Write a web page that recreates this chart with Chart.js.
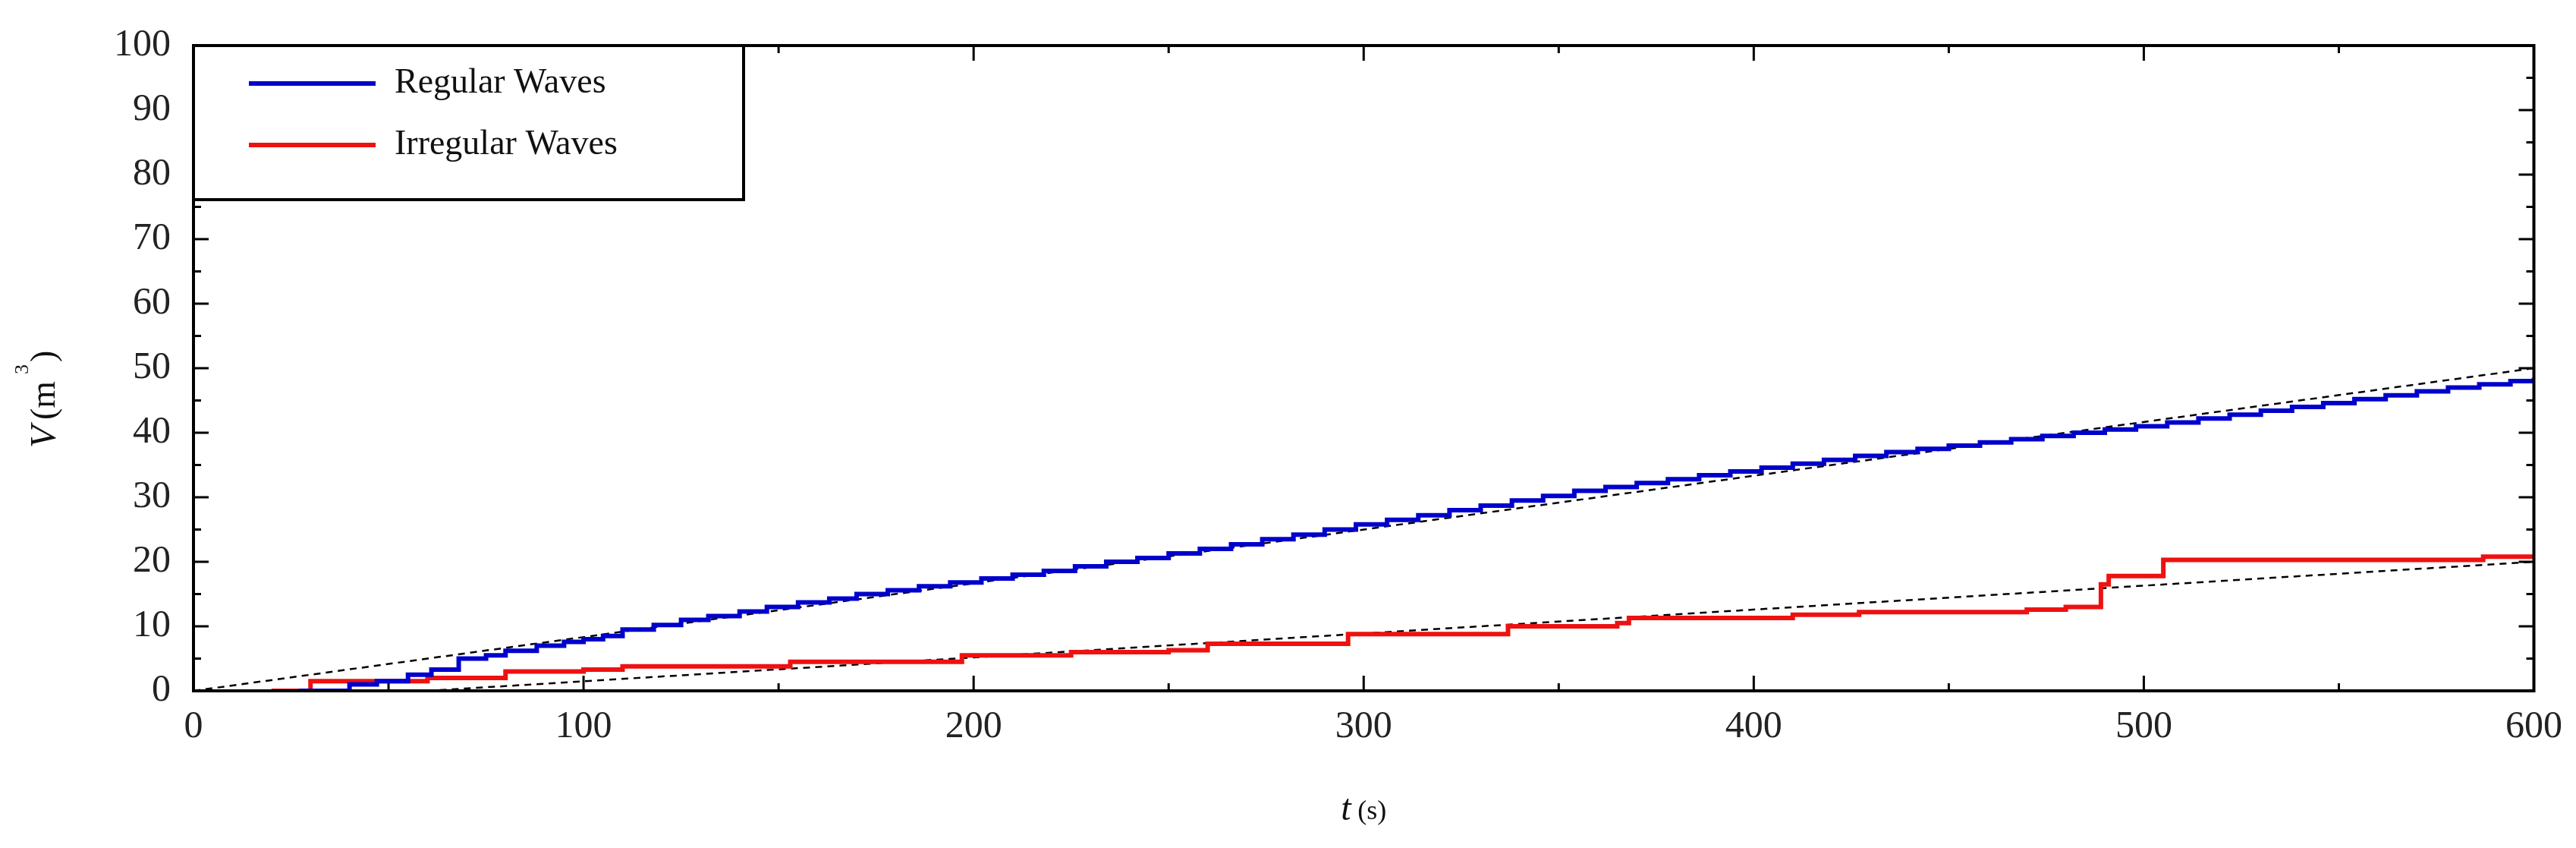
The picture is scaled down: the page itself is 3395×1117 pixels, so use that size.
<!DOCTYPE html>
<html>
<head>
<meta charset="utf-8">
<script src="https://cdn.jsdelivr.net/npm/chart.js@4/dist/chart.umd.min.js"></script>
<style>body{margin:0;background:#fff}</style>
</head>
<body>
<canvas id="chart" width="3395" height="1117"></canvas>
<script>
// regular waves: stepped cumulative volume
var regT = [27, 40, 47, 55, 61, 68, 75, 80, 88, 95, 100, 105, 110, 118, 125, 132, 140, 147, 155, 163, 170, 178, 186, 194, 202, 210, 218, 226, 234, 242, 250, 258, 266, 274, 282, 290, 298, 306, 314, 322, 330, 338, 346, 354, 362, 370, 378, 386, 394, 402, 410, 418, 426, 434, 442, 450, 458, 466, 474, 482, 490, 498, 506, 514, 522, 530, 538, 546, 554, 562, 570, 578, 586, 594, 600];
var regV = [0, 1, 1.5, 2.5, 3.3, 5, 5.5, 6.2, 7, 7.6, 8, 8.5, 9.5, 10.2, 11, 11.6, 12.3, 13, 13.7, 14.3, 15, 15.6, 16.2, 16.8, 17.4, 18, 18.6, 19.3, 20, 20.6, 21.3, 22, 22.7, 23.5, 24.2, 25, 25.8, 26.5, 27.2, 28, 28.7, 29.5, 30.2, 31, 31.6, 32.2, 32.8, 33.4, 34, 34.6, 35.2, 35.8, 36.4, 37, 37.5, 38, 38.5, 39, 39.5, 40, 40.5, 41, 41.6, 42.2, 42.8, 43.4, 44, 44.6, 45.2, 45.8, 46.4, 47, 47.5, 48, 48.5];
// irregular waves
var irrT = [20, 30, 60, 80, 100, 110, 153, 197, 225, 250, 260, 296, 337, 365, 368, 410, 427, 470, 480, 489, 491, 500, 505, 587, 600];
var irrV = [0, 1.5, 2, 3, 3.3, 3.8, 4.5, 5.5, 6, 6.3, 7.3, 8.8, 10, 10.5, 11.3, 11.8, 12.2, 12.6, 13, 16.5, 17.8, 17.8, 20.3, 20.8, 20.8];
// linear trend lines (dashed)
var trendRegT = [0, 600], trendRegV = [0, 50];
var trendIrrT = [60, 600], trendIrrV = [0, 20];
var xTicks = [0, 100, 200, 300, 400, 500, 600];
var yTicks = [0, 10, 20, 30, 40, 50, 60, 70, 80, 90, 100];

function pts(t, v){ return t.map(function(x, i){ return {x: x, y: v[i]}; }); }

var serif = '"Liberation Serif", "DejaVu Serif", serif';

var framePlugin = {
    id: 'frame',
    afterDraw: function(chart){
        var c = chart.ctx, a = chart.chartArea, xs = chart.scales.x, ys = chart.scales.y;
        c.save();
        c.strokeStyle = '#000'; c.lineWidth = 4;
        c.strokeRect(a.left, a.top, a.right - a.left, a.bottom - a.top);
        c.lineWidth = 3;
        // inward ticks
        for (var t = 0; t <= 600; t += 50){
            var px = xs.getPixelForValue(t), len = t % 100 ? 10 : 20;
            c.beginPath(); c.moveTo(px, a.bottom); c.lineTo(px, a.bottom - len);
            c.moveTo(px, a.top); c.lineTo(px, a.top + len); c.stroke();
        }
        for (var v = 0; v <= 100; v += 5){
            var py = ys.getPixelForValue(v), l2 = v % 10 ? 10 : 20;
            c.beginPath(); c.moveTo(a.left, py); c.lineTo(a.left + l2, py);
            c.moveTo(a.right, py); c.lineTo(a.right - l2, py); c.stroke();
        }
        // legend box
        var lx = a.left, ly = a.top, lw = 725, lh = 203;
        c.fillStyle = '#fff'; c.fillRect(lx, ly, lw, lh);
        c.lineWidth = 4; c.strokeRect(lx, ly, lw, lh);
        var items = [['Regular Waves', '#0000cc', 50], ['Irregular Waves', '#ee1111', 131]];
        c.font = '46px ' + serif; c.textBaseline = 'middle'; c.fillStyle = '#111';
        items.forEach(function(it){
            c.strokeStyle = it[1]; c.lineWidth = 6;
            c.beginPath(); c.moveTo(lx + 73, ly + it[2]); c.lineTo(lx + 240, ly + it[2]); c.stroke();
            c.fillText(it[0], lx + 265, ly + it[2]);
        });
        // axis titles
        c.font = 'italic 48px ' + serif; c.textAlign = 'left';
        var cx = (a.left + a.right) / 2;
        c.fillText('t', cx - 30, 1067);
        c.font = '36px ' + serif; c.fillText('(s)', cx - 8, 1070);
        c.translate(60, 515); c.rotate(-Math.PI / 2);
        c.font = 'italic 48px ' + serif; c.fillText('V', -75, 0);
        c.font = '46px ' + serif; c.fillText('(m', -38, 0);
        c.font = '26px ' + serif; c.fillText('3', 22, -30);
        c.font = '46px ' + serif; c.fillText(')', 38, 0);
        c.restore();
    }
};

var ctx = document.getElementById('chart').getContext('2d');
new Chart(ctx, {
    type: 'line',
    data: {
        datasets: [
            {label: 'Regular Waves', data: pts(regT, regV), borderColor: '#0000cc', borderWidth: 6, stepped: true, pointRadius: 0},
            {label: 'Irregular Waves', data: pts(irrT, irrV), borderColor: '#ee1111', borderWidth: 6, stepped: true, pointRadius: 0},
            {label: 'trend1', data: pts(trendRegT, trendRegV), borderColor: '#000', borderWidth: 2.5, borderDash: [9, 7], pointRadius: 0},
            {label: 'trend2', data: pts(trendIrrT, trendIrrV), borderColor: '#000', borderWidth: 2.5, borderDash: [9, 7], pointRadius: 0}
        ]
    },
    options: {
        responsive: false,
        animation: false,
        layout: {padding: {top: 48, right: 54, left: 0, bottom: 0}},
        plugins: {legend: {display: false}, tooltip: {enabled: false}},
        scales: {
            x: {
                type: 'linear', min: 0, max: 600,
                afterBuildTicks: function(s){ s.ticks = xTicks.map(function(v){ return {value: v}; }); },
                afterFit: function(s){ s.height = 207; },
                grid: {display: false, drawTicks: false},
                border: {display: false},
                ticks: {font: {family: serif, size: 50}, color: '#222', padding: 18, maxRotation: 0}
            },
            y: {
                min: 0, max: 100,
                afterBuildTicks: function(s){ s.ticks = yTicks.map(function(v){ return {value: v}; }); },
                afterFit: function(s){ s.width = 255; },
                grid: {display: false, drawTicks: false},
                border: {display: false},
                ticks: {font: {family: serif, size: 50}, color: '#222', padding: 30}
            }
        }
    },
    plugins: [framePlugin]
});
</script>
</body>
</html>
